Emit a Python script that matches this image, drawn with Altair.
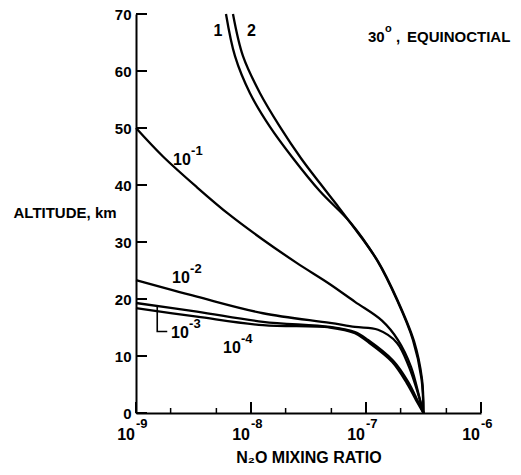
import altair as alt
import pandas as pd

# ---------------- data ----------------
# curve "1"
alt_c1 = [70, 62.6, 56.1, 50.2, 44.7, 38.9, 33.3, 26.8, 19.8, 12.8, 6.0, 0]
mr_c1 = [6.06e-9, 7.26e-9, 9.80e-9, 1.463e-8, 2.318e-8, 3.98e-8, 7.41e-8,
         1.246e-7, 1.861e-7, 2.563e-7, 3.04e-7, 3.16e-7]
# curve "2"
alt_c2 = [70, 62.6, 56.1, 50.2, 44.7, 40.3, 36.7, 33.0, 26.6, 19.6, 12.6, 5.9, 0]
mr_c2 = [6.97e-9, 8.52e-9, 1.198e-8, 1.787e-8, 2.72e-8, 3.98e-8, 5.48e-8, 7.55e-8,
         1.272e-7, 1.898e-7, 2.615e-7, 3.07e-7, 3.16e-7]
# curve 10^-1
alt_m1 = [50, 45.0, 39.6, 34.7, 30.4, 26.3, 22.6, 19.5, 16.2, 12.8, 8.1, 2.3, 0]
mr_m1 = [1.0e-9, 1.717e-9, 3.39e-9, 6.57e-9, 1.272e-8, 2.512e-8, 4.86e-8, 8.02e-8,
         1.377e-7, 1.898e-7, 2.462e-7, 2.949e-7, 3.16e-7]
# curve 10^-2
alt_m2 = [23.3, 20.4, 17.5, 15.8, 15.1, 14.6, 12.3, 8.1, 4.0, 0]
mr_m2 = [1.0e-9, 3.39e-9, 1.272e-8, 4.86e-8, 8.02e-8, 1.272e-7, 1.861e-7, 2.365e-7,
         2.777e-7, 3.16e-7]
# curve 10^-3
alt_m3 = [19.3, 17.8, 16.0, 15.1, 14.2, 12.8, 9.2, 5.5, 2.0, 0]
mr_m3 = [1.0e-9, 3.39e-9, 1.272e-8, 4.86e-8, 8.02e-8, 1.041e-7, 1.717e-7, 2.318e-7,
         2.833e-7, 3.16e-7]
# curve 10^-4
alt_m4 = [18.4, 16.9, 15.4, 15.0, 14.0, 12.6, 9.0, 5.2, 1.8, 0]
mr_m4 = [1.0e-9, 3.39e-9, 1.272e-8, 4.86e-8, 8.02e-8, 1.02e-7, 1.683e-7, 2.27e-7,
         2.805e-7, 3.16e-7]

curve_names = ["1", "2", "1e-1", "1e-2", "1e-3", "1e-4"]
curve_alts = [alt_c1, alt_c2, alt_m1, alt_m2, alt_m3, alt_m4]
curve_mrs = [mr_c1, mr_c2, mr_m1, mr_m2, mr_m3, mr_m4]

# axis ticks / labels
y_ticks = [0, 10, 20, 30, 40, 50, 60, 70]
x_major = [1e-9, 1e-8, 1e-7, 1e-6]
x_major_base = ["10", "10", "10", "10"]
x_major_exp = ["-9", "-8", "-7", "-6"]
x_minor = [2e-9, 5e-9, 2e-8, 5e-8, 2e-7, 5e-7]

# curve labels
lab_mr = [2.10e-9, 2.06e-9, 2.02e-9, 5.71e-9]
lab_alt = [44.4, 23.7, 14.0, 11.4]
lab_base = ["10", "10", "10", "10"]
lab_exp = ["-1", "-2", "-3", "-4"]
num_mr = [5.17e-9, 1.01e-8]
num_alt = [67.1, 67.0]
num_text = ["1", "2"]
# leader line for 10^-3
lead_mr = [1.53e-9, 1.53e-9, 1.87e-9]
lead_alt = [18.8, 14.3, 14.3]
# annotation
ann_mr = [1.041e-7]
ann_alt = [66.0]

# ---------------- chart ----------------
W, H = 345, 399
FONT = "Liberation Sans"

rows = []
for name, alts, mrs in zip(curve_names, curve_alts, curve_mrs):
    for a, m in zip(alts, mrs):
        rows.append({"curve": name, "alt": a, "mr": m})
df = pd.DataFrame(rows)

xscale = alt.Scale(type="log", domain=[1e-9, 1e-6], nice=False)
yscale = alt.Scale(domain=[0, 70], nice=False, zero=False)

xaxis = alt.Axis(title="N₂O MIXING RATIO", labels=False, ticks=False, grid=False,
                 domainColor="black", domainWidth=2,
                 titleFont=FONT, titleFontSize=16, titleFontWeight="bold",
                 titleColor="black", titleY=44, titleBaseline="middle")
yaxis = alt.Axis(title="ALTITUDE, km", values=y_ticks, ticks=False, grid=False,
                 domainColor="black", domainWidth=2,
                 labelFont=FONT, labelFontSize=15, labelFontWeight="bold",
                 labelColor="black", labelPadding=5,
                 titleFont=FONT, titleFontSize=15, titleFontWeight="bold",
                 titleColor="black", titleAngle=0, titleAlign="left",
                 titleX=-123, titleY=198, titleBaseline="middle")


def X(field):
    return alt.X(field, scale=xscale, axis=xaxis)


def Y(field):
    return alt.Y(field, scale=yscale, axis=yaxis)


lines = alt.Chart(df).mark_line(color="black", strokeWidth=2.3, interpolate="catmull-rom").encode(
    x=X("mr:Q"), y=Y("alt:Q"), detail="curve:N", order="mr:Q")

ytick_df = pd.DataFrame({"v": y_ticks})
yticks = alt.Chart(ytick_df).mark_rule(color="black", strokeWidth=2).encode(
    y=Y("v:Q"), x=alt.value(0), x2=alt.value(11))

xmaj_df = pd.DataFrame({"v": x_major, "b": x_major_base, "e": x_major_exp})
xmaj = alt.Chart(xmaj_df).mark_rule(color="black", strokeWidth=2).encode(
    x=X("v:Q"), y=alt.value(H), y2=alt.value(H - 11))
xmin_df = pd.DataFrame({"v": x_minor})
xmin = alt.Chart(xmin_df).mark_rule(color="black", strokeWidth=1.5).encode(
    x=X("v:Q"), y=alt.value(H), y2=alt.value(H - 5))

xlab_base = alt.Chart(xmaj_df).mark_text(
    align="right", baseline="middle", dx=-1, font=FONT, fontSize=16, fontWeight="bold",
    color="black").encode(x=X("v:Q"), y=alt.value(H + 22), text="b:N")
xlab_exp = alt.Chart(xmaj_df).mark_text(
    align="left", baseline="middle", dx=0, font=FONT, fontSize=13, fontWeight="bold",
    color="black").encode(x=X("v:Q"), y=alt.value(H + 11), text="e:N")

lab_df = pd.DataFrame({"mr": lab_mr, "alt": lab_alt, "b": lab_base, "e": lab_exp})
lab_b = alt.Chart(lab_df).mark_text(
    align="left", baseline="middle", font=FONT, fontSize=16, fontWeight="bold", color="black").encode(
    x=X("mr:Q"), y=Y("alt:Q"), text="b:N")
lab_e = alt.Chart(lab_df).mark_text(
    align="left", baseline="middle", dx=18, dy=-9, font=FONT, fontSize=13, fontWeight="bold",
    color="black").encode(x=X("mr:Q"), y=Y("alt:Q"), text="e:N")

num_df = pd.DataFrame({"mr": num_mr, "alt": num_alt, "t": num_text})
nums = alt.Chart(num_df).mark_text(
    align="center", baseline="middle", font=FONT, fontSize=16, fontWeight="bold", color="black").encode(
    x=X("mr:Q"), y=Y("alt:Q"), text="t:N")

lead_df = pd.DataFrame({"mr": lead_mr, "alt": lead_alt, "o": [0, 1, 2]})
lead = alt.Chart(lead_df).mark_line(color="black", strokeWidth=1.6).encode(
    x=X("mr:Q"), y=Y("alt:Q"), order="o:Q")

ann_df = pd.DataFrame({"mr": ann_mr, "alt": ann_alt, "a": ["30"], "s": ["o"], "c": [","],
                       "t": ["EQUINOCTIAL"]})
ann1 = alt.Chart(ann_df).mark_text(align="left", baseline="middle", font=FONT, fontSize=15,
                                   fontWeight="bold", color="black").encode(
    x=X("mr:Q"), y=Y("alt:Q"), text="a:N")
ann2 = alt.Chart(ann_df).mark_text(align="left", baseline="middle", dx=17, dy=-8, font=FONT,
                                   fontSize=11, fontWeight="bold", color="black").encode(
    x=X("mr:Q"), y=Y("alt:Q"), text="s:N")
ann3 = alt.Chart(ann_df).mark_text(align="left", baseline="middle", dx=28, font=FONT, fontSize=15,
                                   fontWeight="bold", color="black").encode(
    x=X("mr:Q"), y=Y("alt:Q"), text="c:N")
ann4 = alt.Chart(ann_df).mark_text(align="left", baseline="middle", dx=39, font=FONT, fontSize=15,
                                   fontWeight="bold", color="black").encode(
    x=X("mr:Q"), y=Y("alt:Q"), text="t:N")

chart = alt.layer(
    lines, yticks, xmaj, xmin, xlab_base, xlab_exp, lab_b, lab_e, nums, lead,
    ann1, ann2, ann3, ann4
).properties(
    width=W, height=H,
    padding={"left": 136, "top": 14, "right": 40, "bottom": 62},
    autosize=alt.AutoSizeParams(type="none"),
    background="white",
).configure_view(stroke=None)

chart.save("out.html", embed_options={"renderer": "svg", "actions": False})
